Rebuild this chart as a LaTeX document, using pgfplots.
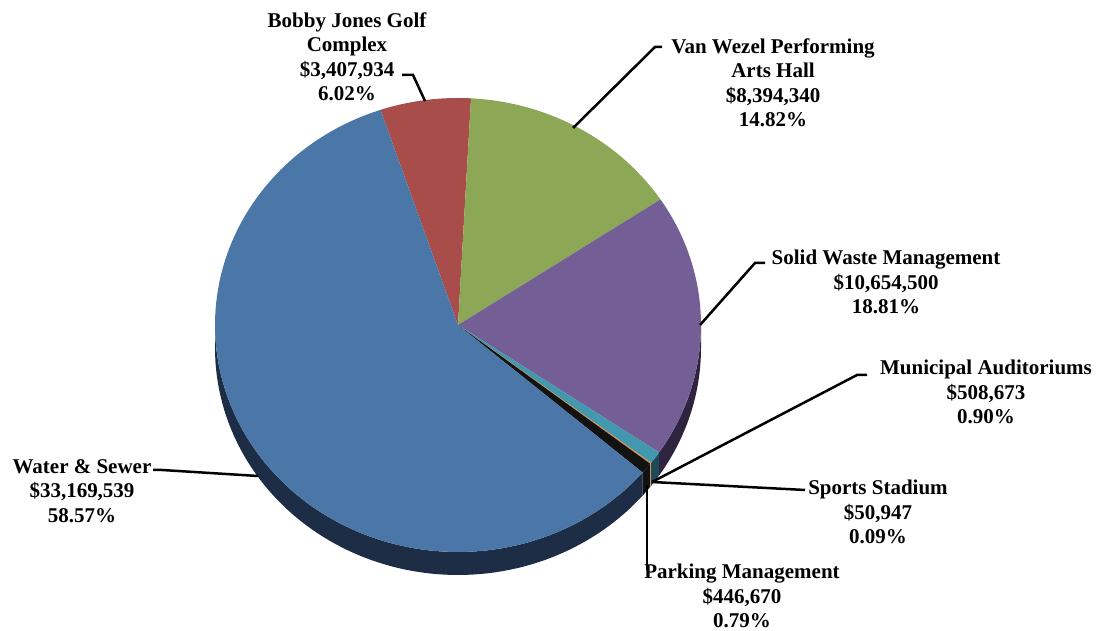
\documentclass[border=0pt]{standalone}
\usepackage{fontspec}
\setmainfont{Liberation Serif}
\usepackage{pgfplots}
\pgfplotsset{compat=1.18}
\usepackage{pgfplotstable}
\usepgfplotslibrary{fillbetween}

\definecolor{cBlue}{HTML}{4A76A8}
\definecolor{cBlueS}{HTML}{1D2D45}
\definecolor{cRed}{HTML}{A84D4A}
\definecolor{cGreen}{HTML}{8CA756}
\definecolor{cPurple}{HTML}{745E96}
\definecolor{cPurpleS}{HTML}{2F2440}
\definecolor{cTeal}{HTML}{4198AF}
\definecolor{cTealS}{HTML}{1E4B57}
\definecolor{cOrange}{HTML}{E8883A}
\definecolor{cBlack}{HTML}{121212}

\tikzset{lbl/.style={font=\bfseries\fontsize{21}{24.5}\selectfont, align=center, inner sep=0pt}}

\pgfplotstableread{
name pct
Golf 6.02
VanWezel 14.82
SolidWaste 18.81
Auditoriums 0.90
Stadium 0.09
Parking 0.79
Water 58.57
}\pietable

\newcommand\sector[3]{%
  \addplot[fill=#3, draw=none, domain=#1:#2, samples=120]
    ({458+243*cos(x)},{325-227*sin(x)}) -- (axis cs:458,325) -- cycle;}
\newcommand\side[4]{%
  \addplot[name path=top#4, draw=none, domain=#1:#2, samples=80]
    ({458+243*cos(x)},{325-227*sin(x)});
  \addplot[name path=bot#4, draw=none, domain=#1:#2, samples=80]
    ({458+243*cos(x)},{348-227*sin(x)});
  \addplot[fill=#3, draw=none] fill between[of=top#4 and bot#4];}

\begin{document}
\begin{tikzpicture}
\pgfmathsetmacro\aZ{108.6}
\pgfplotstablegetelem{0}{pct}\of\pietable \pgfmathsetmacro\aA{\aZ-3.6*\pgfplotsretval}
\pgfplotstablegetelem{1}{pct}\of\pietable \pgfmathsetmacro\aB{\aA-3.6*\pgfplotsretval}
\pgfplotstablegetelem{2}{pct}\of\pietable \pgfmathsetmacro\aC{\aB-3.6*\pgfplotsretval}
\pgfplotstablegetelem{3}{pct}\of\pietable \pgfmathsetmacro\aD{\aC-3.6*\pgfplotsretval}
\pgfplotstablegetelem{4}{pct}\of\pietable \pgfmathsetmacro\aE{\aD-3.6*\pgfplotsretval}
\pgfplotstablegetelem{5}{pct}\of\pietable \pgfmathsetmacro\aF{\aE-3.6*\pgfplotsretval}
\pgfplotstablegetelem{6}{pct}\of\pietable \pgfmathsetmacro\aG{\aF-3.6*\pgfplotsretval}
\begin{axis}[scale only axis, width=1103pt, height=631pt,
  xmin=0, xmax=1103, ymin=0, ymax=631, y dir=reverse,
  hide axis, clip=false]
\addplot[draw=none] coordinates {(0,0) (1103,631)};
% side walls
\side{-180}{\aF}{cBlueS}{a}
\side{\aF}{\aE}{cBlack}{b}
\side{\aE}{\aD}{cOrange}{c}
\side{\aD}{\aC}{cTealS}{d}
\side{\aC}{0}{cPurpleS}{e}
% top faces
\sector{\aA}{\aZ}{cRed}
\sector{\aB}{\aA}{cGreen}
\sector{\aC}{\aB}{cPurple}
\sector{\aD}{\aC}{cTeal}
\sector{\aE}{\aD}{cOrange}
\sector{\aF}{\aE}{cBlack}
\sector{\aG}{\aF}{cBlue}
% leader lines
\addplot[black, line width=2.5pt] coordinates {(402,75) (413,75) (425,101)};
\addplot[black, line width=2.5pt] coordinates {(662,47) (655,47) (573,128)};
\addplot[black, line width=2.5pt] coordinates {(765,263) (755,263) (700,325)};
\addplot[black, line width=2.5pt] coordinates {(867,375) (857,375) (652,482)};
\addplot[black, line width=2.5pt] coordinates {(805,490) (652,482)};
\addplot[black, line width=2.5pt] coordinates {(647,485) (647,570)};
\addplot[black, line width=2.5pt] coordinates {(153,470) (162,470) (258,476)};
% labels
\node[lbl] at (axis cs:347,57) {Bobby Jones Golf\\Complex\\\$3,407,934\\6.02\%};
\node[lbl] at (axis cs:773,83) {Van Wezel Performing\\Arts Hall\\\$8,394,340\\14.82\%};
\node[lbl] at (axis cs:886,282) {Solid Waste Management\\\$10,654,500\\18.81\%};
\node[lbl] at (axis cs:986,392) {Municipal Auditoriums\\\$508,673\\0.90\%};
\node[lbl] at (axis cs:878,512) {Sports Stadium\\\$50,947\\0.09\%};
\node[lbl] at (axis cs:742,596) {Parking Management\\\$446,670\\0.79\%};
\node[lbl] at (axis cs:82,491) {Water \& Sewer\\\$33,169,539\\58.57\%};
\end{axis}
\end{tikzpicture}
\end{document}
